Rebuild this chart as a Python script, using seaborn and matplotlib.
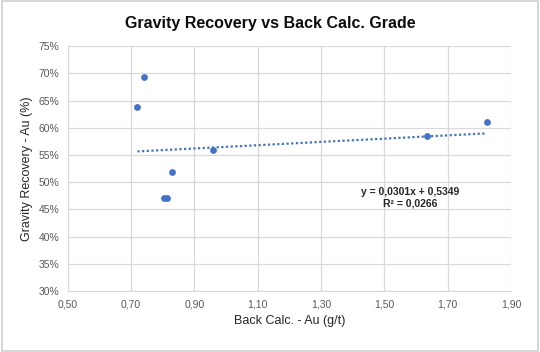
import numpy as np
import seaborn as sns
import pandas as pd
import matplotlib.pyplot as plt
from matplotlib.patches import Rectangle
from matplotlib.ticker import FuncFormatter, MultipleLocator

# data
back_calc = [0.72, 0.742, 0.83, 0.804, 0.814, 0.958, 1.634, 1.824]
recovery = [0.638, 0.693, 0.518, 0.471, 0.471, 0.560, 0.584, 0.611]
slope, intercept, r2 = 0.0301, 0.5349, 0.0266
x_ticks = [0.50, 0.70, 0.90, 1.10, 1.30, 1.50, 1.70, 1.90]

df = pd.DataFrame({"x": back_calc, "y": recovery})

sns.set_style("white")
plt.rcParams['font.family'] = ['Liberation Sans', 'DejaVu Sans']

fig = plt.figure(figsize=(5.4, 3.52), dpi=100)
ax = fig.add_axes([0.1254, 0.173, 0.821, 0.696])

blue = "#4472C4"
sns.scatterplot(data=df, x="x", y="y", ax=ax, color=blue, s=24,
                edgecolor=blue, linewidth=0, zorder=3)

# linear trendline (dotted) over data range
xs = np.array([min(back_calc), max(back_calc)])
ax.plot(xs, slope * xs + intercept, color=blue, linestyle=(0, (1, 1.1)),
        linewidth=1.6, zorder=2)

ax.set_xlim(0.5, 1.9)
ax.set_ylim(0.30, 0.75)
ax.set_xticks(x_ticks)
ax.yaxis.set_major_locator(MultipleLocator(0.05))
ax.xaxis.set_major_formatter(FuncFormatter(lambda v, p: f"{v:.2f}".replace(".", ",")))
ax.yaxis.set_major_formatter(FuncFormatter(lambda v, p: f"{v*100:.0f}%"))

ax.grid(True, color="#d9d9d9", linewidth=0.9)
ax.set_axisbelow(True)
for side in ["top", "right"]:
    ax.spines[side].set_visible(False)
for side in ["left", "bottom"]:
    ax.spines[side].set_color("#d9d9d9")
ax.tick_params(axis="both", length=0, labelsize=7.5, labelcolor="#595959", pad=6)

ax.set_xlabel("Back Calc. - Au (g/t)", fontsize=9, color="#262626")
ax.set_ylabel("Gravity Recovery - Au (%)", fontsize=9, color="#262626", labelpad=4)

eq = f"y = {slope:.4f}x + {intercept:.4f}".replace(".", ",")
r2txt = f"R² = {r2:.4f}".replace(".", ",")
ax.text(1.58, 0.472, eq + "\n" + r2txt, ha="center", va="center",
        fontsize=7.5, fontweight="bold", color="#262626", linespacing=1.2)

fig.suptitle("Gravity Recovery vs Back Calc. Grade", y=0.955,
             fontsize=11.5, fontweight="bold", color="#0d0d0d")

fig.patches.append(Rectangle((0.003, 0.004), 0.994, 0.992, transform=fig.transFigure,
                             fill=False, edgecolor="#d0d0d0", linewidth=1.2))

fig.savefig("out.png", dpi=100)
